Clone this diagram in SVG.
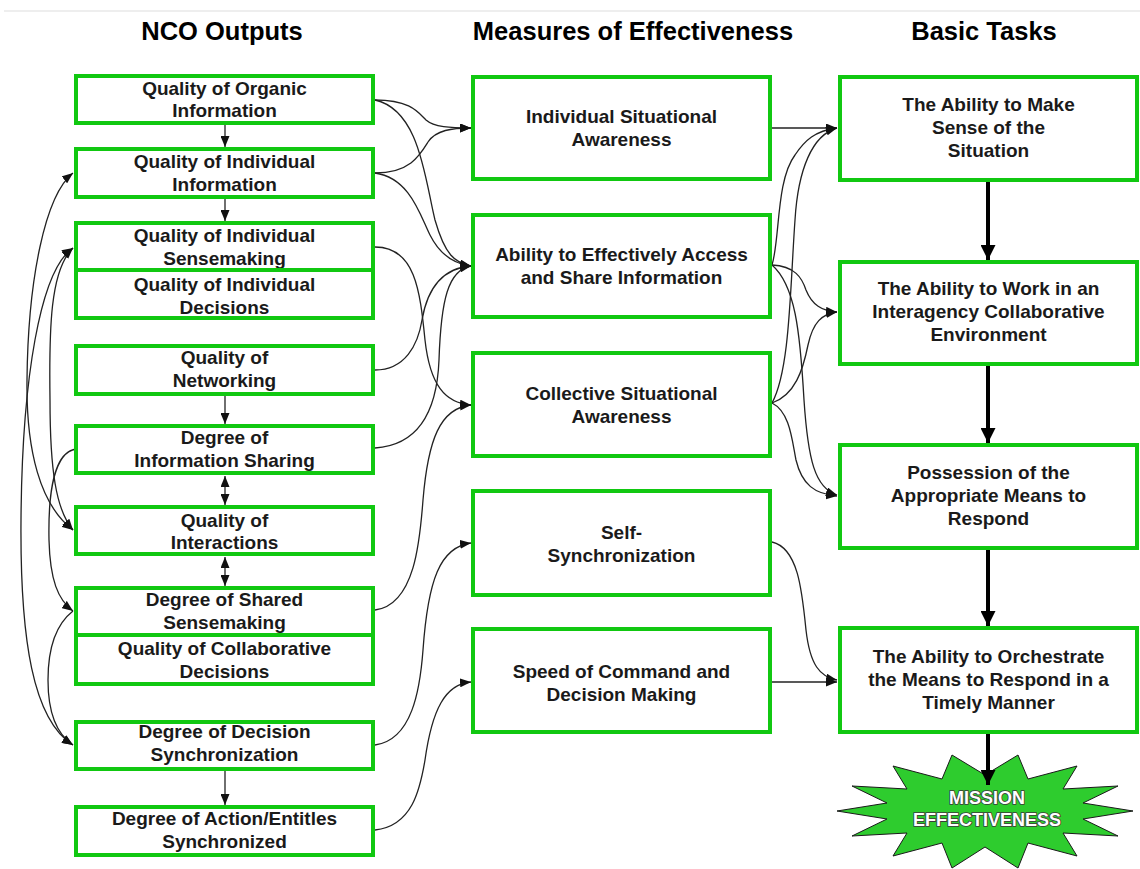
<svg xmlns="http://www.w3.org/2000/svg" width="1140" height="869" viewBox="0 0 1140 869">
<style>
  .box { fill: #ffffff; stroke: #11c811; stroke-width: 4; }
  .t { font-family: "Liberation Sans", Arial, sans-serif; font-weight: bold; font-size: 19px; fill: #1a1a1a; text-anchor: middle; }
  .h { font-family: "Liberation Sans", Arial, sans-serif; font-weight: bold; font-size: 25.5px; fill: #000000; text-anchor: middle; }
  .c { fill: none; stroke: #222222; stroke-width: 1.3; }
  .ca { fill: none; stroke: #222222; stroke-width: 1.3; marker-end: url(#ah); }
  .cd { fill: none; stroke: #222222; stroke-width: 1.3; marker-end: url(#ah); marker-start: url(#ahs); }
  .thick { fill: none; stroke: #000000; stroke-width: 4; marker-end: url(#big); }
  .star { fill: #2ecc2e; stroke: #1a1a1a; stroke-width: 1; }
  .st { font-family: "Liberation Sans", Arial, sans-serif; font-weight: bold; font-size: 18px; fill: #ffffff; stroke: #3a3a3a; stroke-width: 1.6; paint-order: stroke; text-anchor: middle; }
</style>
<defs>
  <marker id="ah" markerUnits="userSpaceOnUse" markerWidth="11" markerHeight="9" refX="11" refY="4.5" orient="auto">
    <path d="M0,0 L11,4.5 L0,9 Z" fill="#111111"/>
  </marker>
  <marker id="ahs" markerUnits="userSpaceOnUse" markerWidth="11" markerHeight="9" refX="11" refY="4.5" orient="auto-start-reverse">
    <path d="M0,0 L11,4.5 L0,9 Z" fill="#111111"/>
  </marker>
  <marker id="big" markerUnits="userSpaceOnUse" markerWidth="15" markerHeight="15" refX="15" refY="7.5" orient="auto">
    <path d="M0,0 L15,7.5 L0,15 Z" fill="#000000"/>
  </marker>
</defs>
<rect x="0" y="0" width="1140" height="869" fill="#ffffff"/>
<line x1="4" y1="11" x2="1140" y2="11" stroke="#dddddd" stroke-width="1"/>

<g id="headers">
  <text class="h" x="222" y="40">NCO Outputs</text>
  <text class="h" x="633" y="40">Measures of Effectiveness</text>
  <text class="h" x="984" y="40">Basic Tasks</text>
</g>

<g id="connectors">
  <!-- left column vertical -->
  <line class="ca" x1="225" y1="125" x2="225" y2="147"/>
  <line class="ca" x1="225" y1="199" x2="225" y2="221"/>
  <line class="ca" x1="225" y1="396" x2="225" y2="424"/>
  <line class="cd" x1="225" y1="476" x2="225" y2="505"/>
  <line class="cd" x1="225" y1="557" x2="225" y2="586"/>
  <line class="ca" x1="225" y1="771" x2="225" y2="805"/>
  <!-- left feedback loops -->
  <path class="cd" d="M73,530 C40,505 26,450 27,380 C28,280 45,195 73,173"/>
  <path class="cd" d="M73,530 C56,510 50,470 50,400 C49,330 50,270 73,248"/>
  <path class="cd" d="M73,745 C33,720 20,640 21,520 C22,380 40,270 73,248"/>
  <path class="ca" d="M76,449 C55,452 48,490 49,540 C50,580 58,600 73,611"/>
  <path class="ca" d="M73,611 C55,625 48,650 48,680 C48,715 58,735 73,745"/>
  <!-- left to middle -->
  <path class="ca" d="M375,100 C410,100 418,112 426,120 C434,127 450,128 471,128"/>
  <path class="ca" d="M375,100 C420,110 425,180 435,220 C445,255 455,263 471,266"/>
  <path class="ca" d="M375,173 C410,173 420,155 428,142 C436,130 452,128 471,128"/>
  <path class="ca" d="M375,173 C410,178 420,215 430,235 C440,255 455,264 471,266"/>
  <path class="ca" d="M375,247 C415,247 420,290 425,340 C430,385 445,403 471,405"/>
  <path class="ca" d="M375,370 C405,370 418,345 422,320 C428,285 445,268 471,266"/>
  <path class="ca" d="M375,448 C420,445 437,410 439,360 C441,300 448,270 471,266"/>
  <path class="ca" d="M375,610 C415,605 420,540 423,500 C428,440 440,408 471,405"/>
  <path class="ca" d="M375,745 C412,740 420,690 423,650 C428,580 440,547 471,543"/>
  <path class="ca" d="M375,830 C412,826 420,790 425,760 C432,710 445,684 471,682"/>
  <!-- middle to right -->
  <path class="ca" d="M772,128 L837,128"/>
  <path class="ca" d="M772,265 C780,240 776,180 795,155 C805,140 815,131 837,128"/>
  <path class="ca" d="M772,403 C790,370 790,290 795,220 C798,170 812,135 837,128"/>
  <path class="ca" d="M772,265 C795,266 802,278 806,290 C812,305 822,311 837,312"/>
  <path class="ca" d="M772,265 C795,285 800,330 804,400 C808,460 815,488 837,495"/>
  <path class="ca" d="M772,403 C795,395 803,370 808,345 C813,322 822,314 837,312"/>
  <path class="ca" d="M772,403 C790,412 792,440 796,460 C802,485 815,494 837,496"/>
  <path class="ca" d="M772,542 C798,548 802,590 806,630 C810,665 820,677 837,680"/>
  <path class="ca" d="M772,682 L837,682"/>
  <!-- right column thick -->
  <line class="thick" x1="988" y1="182" x2="988" y2="260"/>
  <line class="thick" x1="988" y1="366" x2="988" y2="443"/>
  <line class="thick" x1="988" y1="550" x2="988" y2="626"/>
</g>

<g id="n1"><rect class="box" x="76" y="76" width="297" height="47"/><text class="t" x="224.5" y="95">Quality of Organic</text><text class="t" x="224.5" y="117">Information</text></g>
<g id="n2"><rect class="box" x="76" y="149" width="297" height="48"/><text class="t" x="224.5" y="168">Quality of Individual</text><text class="t" x="224.5" y="191">Information</text></g>
<g id="n3"><rect class="box" x="76" y="223" width="297" height="47"/><text class="t" x="224.5" y="242">Quality of Individual</text><text class="t" x="224.5" y="265">Sensemaking</text></g>
<g id="n4"><rect class="box" x="76" y="270" width="297" height="48"/><text class="t" x="224.5" y="291">Quality of Individual</text><text class="t" x="224.5" y="314">Decisions</text></g>
<g id="n5"><rect class="box" x="76" y="346" width="297" height="48"/><text class="t" x="224.5" y="364">Quality of</text><text class="t" x="224.5" y="387">Networking</text></g>
<g id="n6"><rect class="box" x="76" y="426" width="297" height="47"/><text class="t" x="224.5" y="444">Degree of</text><text class="t" x="224.5" y="467">Information Sharing</text></g>
<g id="n7"><rect class="box" x="76" y="507" width="297" height="47"/><text class="t" x="224.5" y="527">Quality of</text><text class="t" x="224.5" y="549">Interactions</text></g>
<g id="n8"><rect class="box" x="76" y="588" width="297" height="47"/><text class="t" x="224.5" y="606">Degree of Shared</text><text class="t" x="224.5" y="629">Sensemaking</text></g>
<g id="n9"><rect class="box" x="76" y="635" width="297" height="49"/><text class="t" x="224.5" y="655">Quality of Collaborative</text><text class="t" x="224.5" y="678">Decisions</text></g>
<g id="n10"><rect class="box" x="76" y="722" width="297" height="47"/><text class="t" x="224.5" y="738">Degree of Decision</text><text class="t" x="224.5" y="761">Synchronization</text></g>
<g id="n11"><rect class="box" x="76" y="807" width="297" height="48"/><text class="t" x="224.5" y="825">Degree of Action/Entitles</text><text class="t" x="224.5" y="848">Synchronized</text></g>

<g id="m1"><rect class="box" x="473" y="77" width="297" height="102"/><text class="t" x="621.5" y="123">Individual Situational</text><text class="t" x="621.5" y="146">Awareness</text></g>
<g id="m2"><rect class="box" x="473" y="215" width="297" height="102"/><text class="t" x="621.5" y="261">Ability to Effectively Access</text><text class="t" x="621.5" y="284">and Share Information</text></g>
<g id="m3"><rect class="box" x="473" y="353" width="297" height="103"/><text class="t" x="621.5" y="400">Collective Situational</text><text class="t" x="621.5" y="423">Awareness</text></g>
<g id="m4"><rect class="box" x="473" y="491" width="297" height="104"/><text class="t" x="621.5" y="539">Self-</text><text class="t" x="621.5" y="562">Synchronization</text></g>
<g id="m5"><rect class="box" x="473" y="629" width="297" height="103"/><text class="t" x="621.5" y="678">Speed of Command and</text><text class="t" x="621.5" y="701">Decision Making</text></g>

<g id="r1"><rect class="box" x="840" y="77" width="297" height="103"/><text class="t" x="988.5" y="111">The Ability to Make</text><text class="t" x="988.5" y="134">Sense of the</text><text class="t" x="988.5" y="157">Situation</text></g>
<g id="r2"><rect class="box" x="840" y="262" width="297" height="102"/><text class="t" x="988.5" y="295">The Ability to Work in an</text><text class="t" x="988.5" y="318">Interagency Collaborative</text><text class="t" x="988.5" y="341">Environment</text></g>
<g id="r3"><rect class="box" x="840" y="445" width="297" height="103"/><text class="t" x="988.5" y="479">Possession of the</text><text class="t" x="988.5" y="502">Appropriate Means to</text><text class="t" x="988.5" y="525">Respond</text></g>
<g id="r4"><rect class="box" x="840" y="628" width="297" height="104"/><text class="t" x="988.5" y="663">The Ability to Orchestrate</text><text class="t" x="988.5" y="686">the Means to Respond in a</text><text class="t" x="988.5" y="709">Timely Manner</text></g>

<g id="mission">
  <polygon class="star" points="837,811 887,803 852,786 907,789 893,766 942,779 952,755 985,775 1018,755 1028,779 1077,766 1063,789 1118,786 1083,803 1133,811 1083,819 1118,836 1063,833 1077,856 1028,843 1018,868 985,847 952,868 942,843 893,856 907,833 852,836 887,819"/>
  <line class="thick" x1="988" y1="734" x2="988" y2="785"/>
  <text class="st" x="987" y="804">MISSION</text>
  <text class="st" x="987" y="826">EFFECTIVENESS</text>
</g>
</svg>
